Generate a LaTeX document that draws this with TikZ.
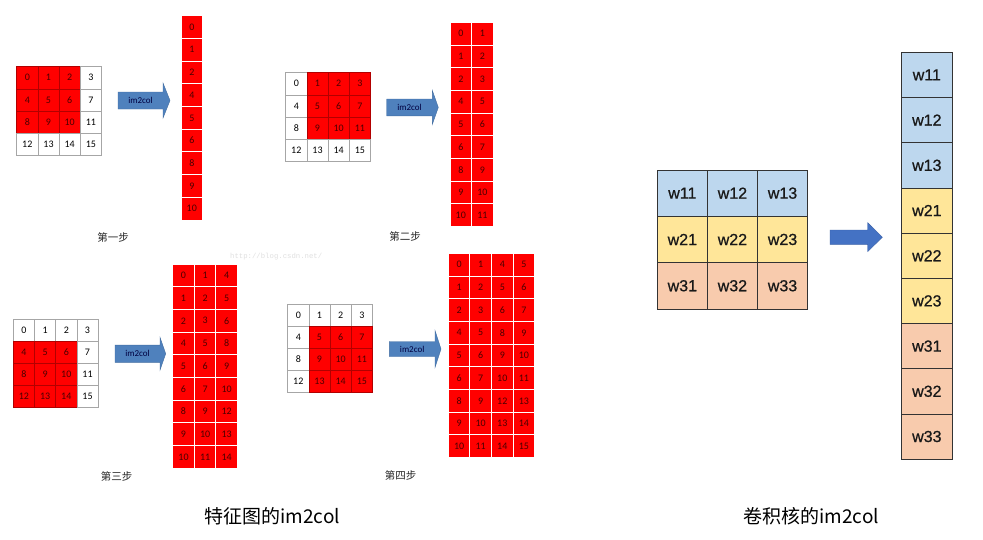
\documentclass[tikz,border=0pt]{standalone}
\usepackage{fontspec}
\setmainfont{Carlito}
\newfontfamily\cjk{Noto Sans CJK SC}
\newfontfamily\libsans[FakeBold=0.8]{Liberation Sans}
\newfontfamily\libmono{Liberation Mono}
\definecolor{arrowblue}{RGB}{79,129,189}
\definecolor{karrow}{RGB}{68,114,196}
\definecolor{kblue}{RGB}{189,215,238}
\definecolor{kyellow}{RGB}{255,230,153}
\definecolor{kpeach}{RGB}{248,203,173}
\definecolor{redtext}{RGB}{75,0,0}
\tikzset{
  cellw/.style={draw=gray!70, line width=0.6pt, fill=white, minimum width=21.2pt, minimum height=22.1pt,
    inner sep=0pt, font=\fontsize{10}{12}\selectfont, text=black},
  cellr/.style={cellw, fill=red, draw=red!70!black, text=redtext},
  colcell/.style={draw=white, line width=0.9pt, fill=red, minimum width=21.6pt, minimum height=22.7pt,
    inner sep=0pt, font=\fontsize{10}{12}\selectfont, text=redtext},
  kcell/.style={draw=black!80, line width=0.8pt, inner sep=0pt, font=\libsans\fontsize{16}{18}\selectfont, text=black!90},
  kgrid/.style={kcell, minimum width=50.1pt, minimum height=46.3pt},
  kcol/.style={kcell, minimum width=51.7pt, minimum height=45.2pt},
  steplabel/.style={font=\cjk\fontsize{10.5}{12}\selectfont, text=black!85},
  biglabel/.style={font=\cjk\fontsize{19}{22}\selectfont, text=black},
  arrowlabel/.style={font=\fontsize{9}{10}\selectfont, text=black!75!blue, inner sep=0pt}
}
% feature map: #1 name, #2 left, #3 top, #4 r0, #5 c0
\newcommand\fmap[5]{%
  \foreach \r in {0,...,3}{\foreach \c in {0,...,3}{%
    \pgfmathtruncatemacro\n{4*\r+\c}%
    \pgfmathtruncatemacro\isred{(\r>=#4)*(\r<=#4+2)*(\c>=#5)*(\c<=#5+2)}%
    \pgfmathsetmacro\cx{#2+21.2*\c+10.6}%
    \pgfmathsetmacro\cy{#3+22.1*\r+11.05}%
    \ifnum\isred=1 \node[cellr] (#1-\n) at (\cx,\cy) {\n};%
    \else \node[cellw] (#1-\n) at (\cx,\cy) {\n};\fi
  }}%
}
% im2col column block: #1 name, #2 left, #3 top, #4 number of patches
\newcommand\fcol[4]{%
  \foreach \j in {1,...,#4}{\foreach \i in {0,...,8}{%
    \pgfmathtruncatemacro\p{\j-1}%
    \pgfmathtruncatemacro\pr{int(\p/2)}%
    \pgfmathtruncatemacro\pc{mod(\p,2)}%
    \pgfmathtruncatemacro\v{4*(\pr+int(\i/3))+\pc+mod(\i,3)}%
    \pgfmathsetmacro\cx{#2+21.6*(\j-1)+10.8}%
    \pgfmathsetmacro\cy{#3+22.7*\i+11.35}%
    \node[colcell] (#1-\j-\i) at (\cx,\cy) {\v};%
  }}%
}
% block arrow: #1 name, #2 tail x, #3 head start x, #4 tip x, #5 centre y, #6 body half, #7 head half, #8 fill, #9 label
\newcommand\blockarrow[9]{%
  \filldraw[fill=#8, draw=#8!85!black, line width=0.4pt]
    ({#2},{#5-#6}) -- ({#3},{#5-#6}) -- ({#3},{#5-#7}) -- ({#4},{#5})
    -- ({#3},{#5+#7}) -- ({#3},{#5+#6}) -- ({#2},{#5+#6}) -- cycle;
  \node[arrowlabel] (#1) at ({(#2+#3)/2},{#5}) {#9};%
}
\begin{document}
\begin{tikzpicture}[x=1pt,y=-1pt]
\useasboundingbox[fill=white] (0,0) rectangle (983,539);

% ---- step 1
\fmap{g1}{16.7}{66.7}{0}{0}
\blockarrow{a1}{118}{163}{170}{100.5}{8.5}{17.5}{arrowblue}{im2col}
\fcol{c1}{181}{15.7}{1}
\node[steplabel] (l1) at (113,237) {第一步};

% ---- step 2
\fmap{g2}{285.7}{72.7}{0}{1}
\blockarrow{a2}{386.7}{432.3}{438.3}{107.4}{8.4}{17}{arrowblue}{im2col}
\fcol{c2}{450}{22.3}{2}
\node[steplabel] (l2) at (405,236.7) {第二步};

% ---- step 3
\fmap{g3}{13.3}{319.3}{1}{0}
\blockarrow{a3}{115}{160}{165.7}{353.7}{8.6}{16.4}{arrowblue}{im2col}
\fcol{c3}{172.7}{264}{3}
\node[steplabel] (l3) at (116.7,476.7) {第三步};

% ---- step 4
\fmap{g4}{287.7}{304.3}{1}{1}
\blockarrow{a4}{389.3}{435}{441}{349}{7.5}{18.5}{arrowblue}{im2col}
\fcol{c4}{448.3}{253.3}{4}
\node[steplabel] (l4) at (400.7,475) {第四步};

% watermark
\node[anchor=west, inner sep=0pt, font=\libmono\fontsize{7.3}{8}\selectfont, text=black!12] (wm) at (230,256.7) {http://blog.csdn.net/};

% ---- kernel
\foreach \r/\col in {1/kblue,2/kyellow,3/kpeach}{
  \foreach \c in {1,2,3}{
    \node[kgrid, fill=\col] (k-\r\c) at ({657.3+50.1*(\c-1)+25.05},{170+46.3*(\r-1)+23.15}) {w\r\c};
  }
}
\blockarrow{ka}{830}{867.7}{882.3}{237.2}{7.2}{14.5}{karrow}{}
\foreach \r/\col [count=\b from 0] in {1/kblue,2/kyellow,3/kpeach}{
  \foreach \c [count=\a from 0] in {1,2,3}{
    \pgfmathtruncatemacro\idx{3*\b+\a}
    \node[kcol, fill=\col] (kc-\r\c) at (926.85,{52.3+45.2*\idx+22.6}) {w\r\c};
  }
}

% ---- captions
\node[biglabel] (cap1) at (272.2,516.5) {特征图的im2col};
\node[biglabel] (cap2) at (811.3,516.5) {卷积核的im2col};
\end{tikzpicture}
\end{document}
